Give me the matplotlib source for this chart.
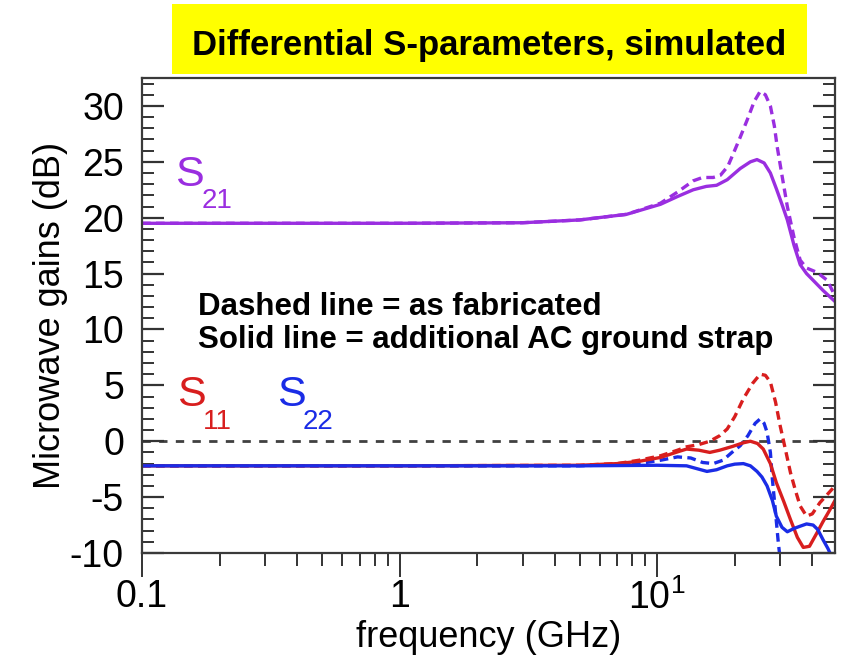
import matplotlib
matplotlib.use("Agg")
import matplotlib.pyplot as plt
from matplotlib import font_manager
from matplotlib.ticker import FixedLocator, MultipleLocator, LogLocator, FuncFormatter
from matplotlib.patches import Rectangle

# S21 (purple)
f_s21_solid = [0.1, 1, 3, 5, 7.6, 10.3, 12, 13.8, 15.5, 17, 18.7, 21, 23, 24.4, 26, 27.5,
               29, 30.5, 32, 34, 35.9, 38, 40.3, 44, 49]
s21_solid = [19.5, 19.5, 19.55, 19.8, 20.3, 21.2, 21.9, 22.5, 22.8, 22.9, 23.4, 24.4, 25.0,
             25.2, 24.9, 24.0, 22.6, 21.2, 19.8, 17.5, 15.8, 15.0, 14.4, 13.5, 12.5]
f_s21_dash = [0.1, 1, 3, 5, 7.6, 10.3, 12, 13.8, 15, 16.5, 17.6, 18.8, 19.8, 21, 22.4, 23.8,
              25.1, 26.3, 27.5, 28.5, 29.2, 30.5, 32, 34, 35.9, 38, 41.8, 45.7, 49]
s21_dash = [19.5, 19.5, 19.55, 19.8, 20.3, 21.3, 22.3, 23.3, 23.6, 23.6, 23.8, 24.6, 25.8,
            27.2, 28.8, 30.4, 31.3, 31.0, 30.0, 28.2, 26.4, 23.8, 21.0, 18.2, 16.2, 15.5,
            15.1, 14.4, 13.0]

# S11 (red)
f_s11_solid = [0.1, 1, 5, 7, 8.5, 10.3, 12, 13, 14.5, 16, 17.5, 19.7, 21.5, 23, 24.5, 25.8,
               27.5, 29, 31, 32.9, 35, 36.9, 39, 41.7, 44, 46.9, 49]
s11_solid = [-2.2, -2.2, -2.15, -2.0, -1.8, -1.45, -0.95, -0.7, -0.8, -1.0, -0.8, -0.45,
             -0.15, 0.0, -0.2, -0.7, -2.0, -3.7, -5.4, -7.0, -8.6, -9.5, -9.4, -8.2, -7.2,
             -6.1, -5.3]
f_s11_dash = [0.1, 1, 5, 7, 8.5, 10.3, 12, 13, 14.5, 16, 17.5, 18.7, 20, 21.6, 23.5, 25.1,
              26.3, 27.5, 28.8, 30, 31.5, 32.9, 34.5, 35.9, 38, 40, 42.8, 46, 49]
s11_dash = [-2.2, -2.2, -2.15, -2.0, -1.7, -1.3, -0.8, -0.5, -0.3, 0.0, 0.5, 1.1, 2.2, 3.8,
            5.2, 6.0, 5.9, 5.3, 3.5, 1.4, -0.8, -2.8, -4.5, -5.8, -6.7, -6.5, -5.5, -4.7, -4.0]

# S22 (blue)
f_s22_solid = [0.1, 1, 5, 10, 13, 14.5, 15.6, 17, 18.7, 20, 21.6, 23, 24.4, 25.5, 26.7, 28,
               29, 30.5, 32, 34, 35.9, 38, 40.3, 42, 44, 46, 47.5, 49]
s22_solid = [-2.2, -2.2, -2.2, -2.15, -2.2, -2.5, -2.7, -2.55, -2.2, -2.05, -2.0, -2.2, -2.7,
             -3.2, -4.0, -5.3, -6.7, -7.7, -8.1, -7.8, -7.6, -7.4, -7.5, -7.9, -8.8, -9.6,
             -10.3, -11]
f_s22_dash = [0.1, 1, 5, 8.5, 10.3, 12, 13.5, 15, 16.5, 18, 19.5, 21, 22.5, 24, 25.1, 26,
              26.7, 27.5, 28, 28.7, 29.5, 30.5]
s22_dash = [-2.2, -2.2, -2.2, -2.0, -1.7, -1.4, -1.5, -1.9, -2.0, -1.7, -1.0, -0.4, 0.5, 1.6,
            2.0, 1.6, 0.8, -1.0, -3.4, -6.0, -9.0, -12]

xticks = [0.1, 1, 10]
xtick_labels = ["0.1", "1", r"$\mathregular{10^1}$"]

purple = "#9a2ee0"
red = "#d81e1e"
blue = "#1a2ce6"

names = {f.name for f in font_manager.fontManager.ttflist}
narrow = "Liberation Sans Narrow" if "Liberation Sans Narrow" in names else "Liberation Sans"
plt.rcParams["font.family"] = ["Liberation Sans", "DejaVu Sans"]
plt.rcParams["mathtext.fontset"] = "custom"
plt.rcParams["mathtext.rm"] = narrow
plt.rcParams["axes.unicode_minus"] = False

fig = plt.figure(figsize=(8.44, 6.62), dpi=100)
ax = fig.add_axes([142 / 844, 1 - 553 / 662, (835 - 142) / 844, (553 - 78) / 662])

dash = (0, (2.6, 1.6))
lw = 2.4
ax.axhline(0, color="#404040", lw=2.0, ls=(0, (3, 3)), zorder=1)
ax.plot(f_s21_dash, s21_dash, color=purple, lw=lw, ls=dash)
ax.plot(f_s21_solid, s21_solid, color=purple, lw=lw)
ax.plot(f_s11_dash, s11_dash, color=red, lw=lw, ls=dash)
ax.plot(f_s22_dash, s22_dash, color=blue, lw=lw, ls=dash)
ax.plot(f_s11_solid, s11_solid, color=red, lw=lw)
ax.plot(f_s22_solid, s22_solid, color=blue, lw=lw)

ax.set_xscale("log")
ax.set_xlim(0.1, 49)
ax.set_ylim(-10, 32.5)

ax.xaxis.set_major_locator(FixedLocator(xticks))
ax.xaxis.set_major_formatter(FuncFormatter(lambda v, p: xtick_labels[xticks.index(v)] if v in xticks else ""))
ax.xaxis.set_minor_locator(LogLocator(base=10, subs=range(2, 10)))
ax.xaxis.set_minor_formatter(FuncFormatter(lambda v, p: ""))
ax.yaxis.set_major_locator(MultipleLocator(5))
ax.yaxis.set_minor_locator(MultipleLocator(1))

ax.tick_params(axis="x", which="major", direction="out", length=17, width=1.4,
               color="#333333", labelsize=27, pad=2)
ax.tick_params(axis="x", which="minor", direction="out", length=9, width=1.4, color="#333333")
ax.tick_params(axis="y", which="major", direction="in", length=16, width=1.6,
               color="#333333", labelsize=27, pad=13, right=True)
ax.tick_params(axis="y", which="minor", direction="in", length=8.5, width=1.4,
               color="#333333", right=True)
for lab in ax.get_xticklabels() + ax.get_yticklabels():
    lab.set_family([narrow, "DejaVu Sans"])

for sp in ax.spines.values():
    sp.set_color("#3a3a3a")
    sp.set_linewidth(1.6)

ax.set_xlabel("frequency (GHz)", fontsize=26, family=[narrow, "DejaVu Sans"], labelpad=2)
ax.set_ylabel("Microwave gains (dB)", fontsize=26, family=[narrow, "DejaVu Sans"], labelpad=1)

# series labels
ax.text(0.134, 22.8, "S", color=purple, fontsize=31, ha="left", va="baseline")
ax.text(0.171, 20.9, "21", color=purple, fontsize=20, ha="left", va="baseline")
ax.text(0.137, 3.15, "S", color=red, fontsize=31, ha="left", va="baseline")
ax.text(0.172, 1.1, "11", color=red, fontsize=20, ha="left", va="baseline")
ax.text(0.334, 3.15, "S", color=blue, fontsize=31, ha="left", va="baseline")
ax.text(0.422, 1.1, "22", color=blue, fontsize=20, ha="left", va="baseline")

fig.text(198 / 844, 1 - 315 / 662, "Dashed line = as fabricated", fontsize=22.5,
         fontweight="bold", ha="left", va="baseline")
fig.text(198 / 844, 1 - 348 / 662, "Solid line = additional AC ground strap", fontsize=22.5,
         fontweight="bold", ha="left", va="baseline")

# title in yellow box
fig.patches.append(Rectangle((172 / 844, 1 - 74 / 662), (807 - 172) / 844, 70 / 662,
                             transform=fig.transFigure, facecolor="#ffff00", edgecolor="none"))
fig.text(489 / 844, 1 - 55 / 662, "Differential S-parameters, simulated", fontsize=25,
         fontweight="bold", ha="center", va="baseline", family=[narrow, "Liberation Sans"])

fig.savefig("out.png", dpi=100)
